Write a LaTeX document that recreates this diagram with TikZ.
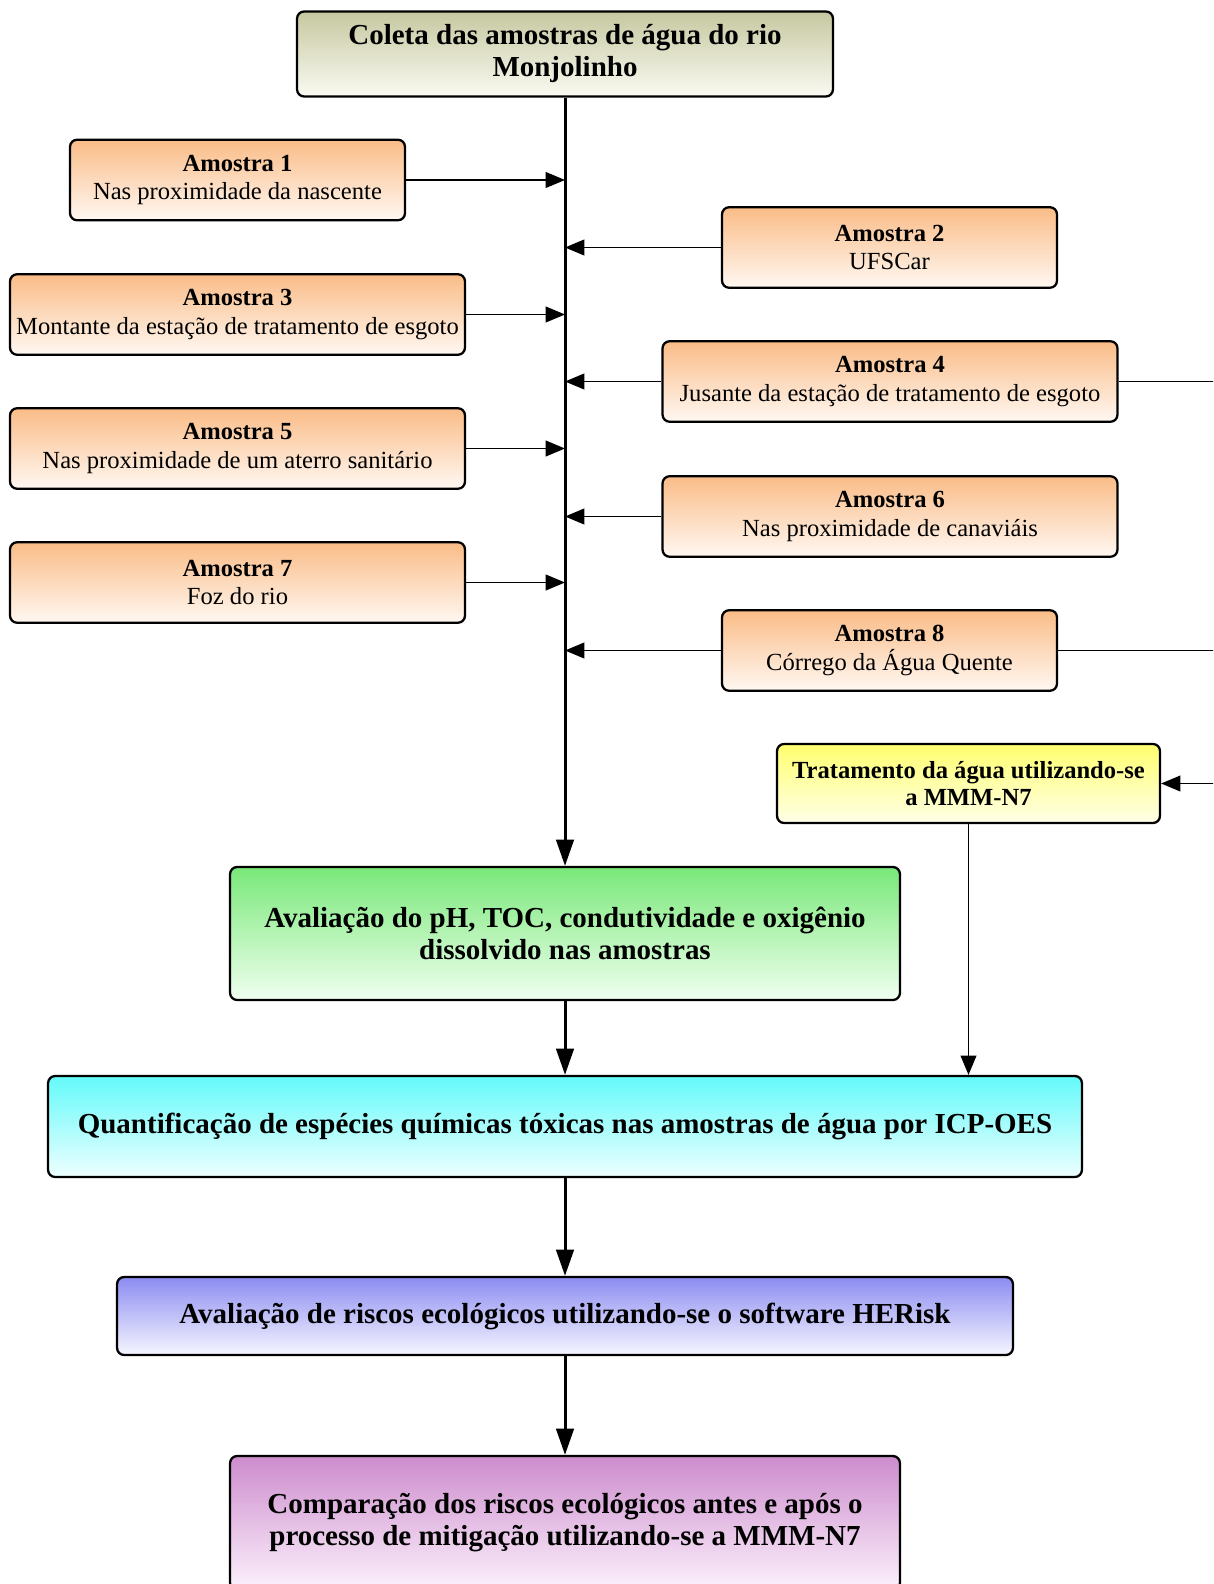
\documentclass[tikz,border=0pt]{standalone}
\usepackage{fontspec}
\setmainfont{Liberation Serif}
\usetikzlibrary{arrows.meta}

\definecolor{khakitop}{RGB}{198,200,160}
\definecolor{khakibot}{RGB}{250,250,242}
\definecolor{orangetop}{RGB}{250,188,135}
\definecolor{orangebot}{RGB}{255,248,242}
\definecolor{yellowtop}{RGB}{255,255,110}
\definecolor{yellowbot}{RGB}{255,255,232}
\definecolor{greentop}{RGB}{120,232,120}
\definecolor{greenbot}{RGB}{240,255,240}
\definecolor{cyantop}{RGB}{100,250,250}
\definecolor{cyanbot}{RGB}{238,255,255}
\definecolor{bluetop}{RGB}{140,140,242}
\definecolor{bluebot}{RGB}{246,246,255}
\definecolor{purpletop}{RGB}{205,140,205}
\definecolor{purplebot}{RGB}{252,242,252}

\tikzset{
  box/.style={draw, line width=1.3pt, rounded corners=4pt, align=center, inner sep=2pt},
  smalltxt/.style={font=\fontsize{14}{16}\selectfont},
  smallbold/.style={font=\fontsize{14}{15.5}\selectfont\bfseries},
  bigtxt/.style={font=\fontsize{16.5}{18.2}\selectfont\bfseries},
  amostra/.style={box, smalltxt, top color=orangetop, bottom color=orangebot, minimum height=1.61cm},
  thin/.style={line width=0.8pt, -{Triangle[length=11pt,width=9pt]}},
  thick/.style={line width=1.7pt, -{Triangle[length=15pt,width=10pt]}}
}

\begin{document}
\begin{tikzpicture}[x=0.02cm, y=-0.02cm]
\useasboundingbox (0,0) rectangle (1213,1584);
\clip (0,0) rectangle (1213,1584);

% coleta
\node[box, bigtxt, top color=khakitop, bottom color=khakibot, minimum width=10.72cm, minimum height=1.7cm]
  (coleta) at (565,54) {Coleta das amostras de água do rio\\Monjolinho};

% amostras
\node[amostra, minimum width=6.7cm] (a1) at (237.5,180) {\textbf{Amostra 1}\\Nas proximidade da nascente};
\node[amostra, minimum width=6.7cm] (a2) at (889.5,247.5) {\textbf{Amostra 2}\\UFSCar};
\node[amostra, minimum width=9.1cm] (a3) at (237.5,314.5) {\textbf{Amostra 3}\\Montante da estação de tratamento de esgoto};
\node[amostra, minimum width=9.1cm] (a4) at (890,381.5) {\textbf{Amostra 4}\\Jusante da estação de tratamento de esgoto};
\node[amostra, minimum width=9.1cm] (a5) at (237.5,448.5) {\textbf{Amostra 5}\\Nas proximidade de um aterro sanitário};
\node[amostra, minimum width=9.1cm] (a6) at (890,516.5) {\textbf{Amostra 6}\\Nas proximidade de canaviáis};
\node[amostra, minimum width=9.1cm] (a7) at (237.5,582.5) {\textbf{Amostra 7}\\Foz do rio};
\node[amostra, minimum width=6.7cm] (a8) at (889.5,650.5) {\textbf{Amostra 8}\\Córrego da Água Quente};

% tratamento
\node[box, smallbold, top color=yellowtop, bottom color=yellowbot, minimum width=7.66cm, minimum height=1.58cm]
  (trat) at (968.5,783.5) {Tratamento da água utilizando-se\\a MMM-N7};

% etapas
\node[box, bigtxt, top color=greentop, bottom color=greenbot, minimum width=13.4cm, minimum height=2.66cm]
  (aval) at (565,933.5) {Avaliação do pH, TOC, condutividade e oxigênio\\dissolvido nas amostras};
\node[box, bigtxt, top color=cyantop, bottom color=cyanbot, minimum width=20.68cm, minimum height=2.02cm]
  (quant) at (565,1126.5) {Quantificação de espécies químicas tóxicas nas amostras de água por ICP-OES};
\node[box, bigtxt, top color=bluetop, bottom color=bluebot, minimum width=17.92cm, minimum height=1.56cm]
  (risco) at (565,1316) {Avaliação de riscos ecológicos utilizando-se o software HERisk};
\node[box, bigtxt, top color=purpletop, bottom color=purplebot, minimum width=13.4cm, minimum height=2.68cm]
  (comp) at (565,1523) {Comparação dos riscos ecológicos antes e após o\\processo de mitigação utilizando-se a MMM-N7};

% tronco
\draw[thick] (coleta) -- (aval);
\foreach \s in {a1,a3,a5,a7}
  \draw[thin] (\s.east) -- (\s.east -| coleta.south);
\foreach \s in {a2,a4,a6,a8}
  \draw[thin] (\s.west) -- (\s.west -| coleta.south);

% saidas para a direita
\coordinate (r4) at (1225,381.5);
\coordinate (r8) at (1225,650.5);
\coordinate (rt) at (1225,783.5);
\draw[line width=0.8pt] (a4.east) -- (r4);
\draw[line width=0.8pt] (a8.east) -- (r8);
\draw[thin] (rt) -- (trat.east);

\draw[thin] (trat.south) -- (trat.south |- quant.north);
\draw[thick] (aval) -- (quant);
\draw[thick] (quant) -- (risco);
\draw[thick] (risco) -- (comp);
\end{tikzpicture}
\end{document}
